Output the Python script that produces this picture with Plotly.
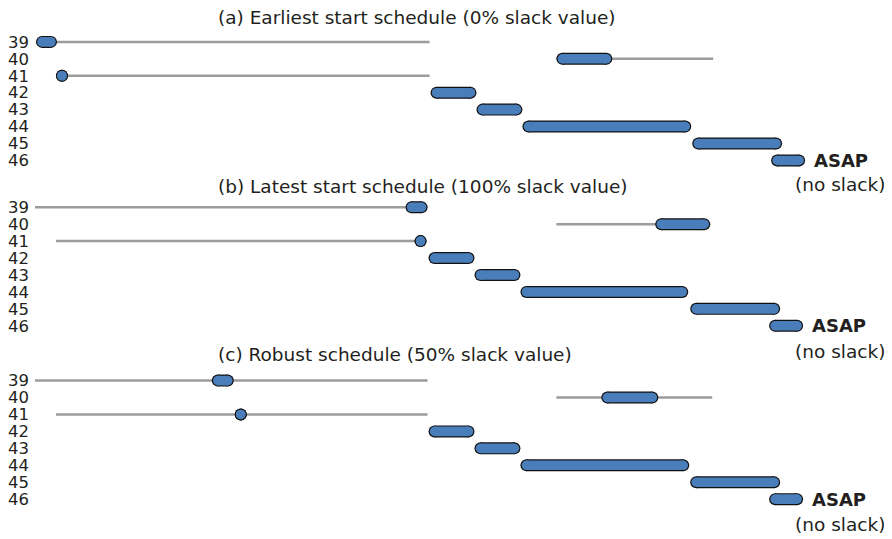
import plotly.graph_objects as go

rows = [39, 40, 41, 42, 43, 44, 45, 46]
titles = ["(a) Earliest start schedule (0% slack value)",
          "(b) Latest start schedule (100% slack value)",
          "(c) Robust schedule (50% slack value)"]

# task start / finish (time units), rows 39..46 ; row 41 is a zero-length task
start_a = [0, 521, 26, 395, 441, 487, 657, 736]
end_a = [21, 577, 26, 441, 487, 656, 747, 770]
start_b = [370, 620, 385, 393, 439, 485, 655, 734]
end_b = [392, 675, 385, 439, 485, 653, 745, 768]
start_c = [176, 566, 205, 393, 439, 485, 655, 734]
end_c = [198, 623, 205, 439, 485, 654, 745, 768]

# slack windows for tasks 39, 40, 41
slack_rows = [39, 40, 41]
slack_start_a = [0, 521, 26]
slack_end_a = [394, 678, 394]
slack_start_b = [-1, 521, 20]
slack_end_b = [392, 675, 385]
slack_start_c = [-1, 521, 20]
slack_end_c = [392, 677, 392]

panels = [
    (start_a, end_a, slack_start_a, slack_end_a),
    (start_b, end_b, slack_start_b, slack_end_b),
    (start_c, end_c, slack_start_c, slack_end_c),
]

OFF = 8                      # page body margin
W, H = 892 - OFF, 539 - OFF
ML = 32 - OFF
X0, X1 = -3, 857
px = (W - ML) / (X1 - X0)   # pixels per time unit
BAR = 12                     # bar thickness in px
R = BAR / 2 / px
BLUE = "#4a7ebb"
GRAY = "#9c9c9c"
TXT = "#231f20"
FONT = "DejaVu Sans"

row39_px = [41 - OFF, 207 - OFF, 381 - OFF]
title_px = [17 - OFF, 186 - OFF, 355 - OFF]
noslack_px = [184 - OFF, 352 - OFF, 525 - OFF]
pitch = 17

fig = go.Figure()
layout_axes = {}
annotations = []

for i, (st, en, ss, se) in enumerate(panels):
    yname = "y" if i == 0 else f"y{i + 1}"
    # slack lines
    sx, sy = [], []
    for r, a, b in zip(slack_rows, ss, se):
        sx += [a, b, None]
        sy += [r, r, None]
    fig.add_trace(go.Scatter(x=sx, y=sy, mode="lines", yaxis=yname,
                             line=dict(color=GRAY, width=2.5),
                             hoverinfo="skip", showlegend=False, cliponaxis=False))
    # bars with round caps: dark outline underneath, blue fill on top
    bx, by = [], []
    for r, a, b in zip(rows, st, en):
        x0, x1 = a + R, b - R
        if x1 < x0:
            x0 = x1 = (a + b) / 2
        bx += [x0, x1, None]
        by += [r, r, None]
    fig.add_trace(go.Scatter(x=bx, y=by, mode="lines+markers", yaxis=yname,
                             line=dict(color="#111", width=BAR),
                             marker=dict(color="#111", size=BAR, line=dict(width=0)),
                             hoverinfo="skip", showlegend=False, cliponaxis=False))
    fig.add_trace(go.Scatter(x=bx, y=by, mode="lines+markers", yaxis=yname,
                             line=dict(color=BLUE, width=BAR - 2.4),
                             marker=dict(color=BLUE, size=BAR - 2.4, line=dict(width=0)),
                             hoverinfo="skip", showlegend=False, cliponaxis=False))

    top = row39_px[i] - pitch / 2
    bot = row39_px[i] + (len(rows) - 1) * pitch + pitch / 2
    layout_axes["yaxis" if i == 0 else f"yaxis{i + 1}"] = dict(
        domain=[1 - bot / H, 1 - top / H], range=[46.5, 38.5], anchor="x",
        tickvals=rows, ticktext=[str(r) for r in rows], showgrid=False,
        zeroline=False, showline=False, ticks="", ticklabelstandoff=3,
        tickfont=dict(size=16.5, color=TXT, family=FONT))

    annotations.append(dict(text=titles[i], xref="x", yref="paper", x=180,
                            y=1 - title_px[i] / H, xanchor="left", yanchor="middle",
                            showarrow=False, font=dict(size=18.5, color=TXT, family=FONT)))
    annotations.append(dict(text="<b>ASAP</b>", xref="x", yref=yname, x=en[-1] + 7, y=46,
                            xanchor="left", yanchor="middle", showarrow=False,
                            font=dict(size=18, color=TXT, family=FONT)))
    annotations.append(dict(text="(no slack)", xref="x", yref="paper", x=805,
                            y=1 - noslack_px[i] / H, xanchor="center",
                            yanchor="middle", showarrow=False,
                            font=dict(size=18.5, color=TXT, family=FONT)))

fig.update_layout(
    width=W, height=H, margin=dict(l=ML, r=0, t=0, b=0),
    plot_bgcolor="white", paper_bgcolor="white",
    xaxis=dict(range=[X0, X1], visible=False, domain=[0, 1]),
    annotations=annotations, **layout_axes)

fig.write_html("out.html")
